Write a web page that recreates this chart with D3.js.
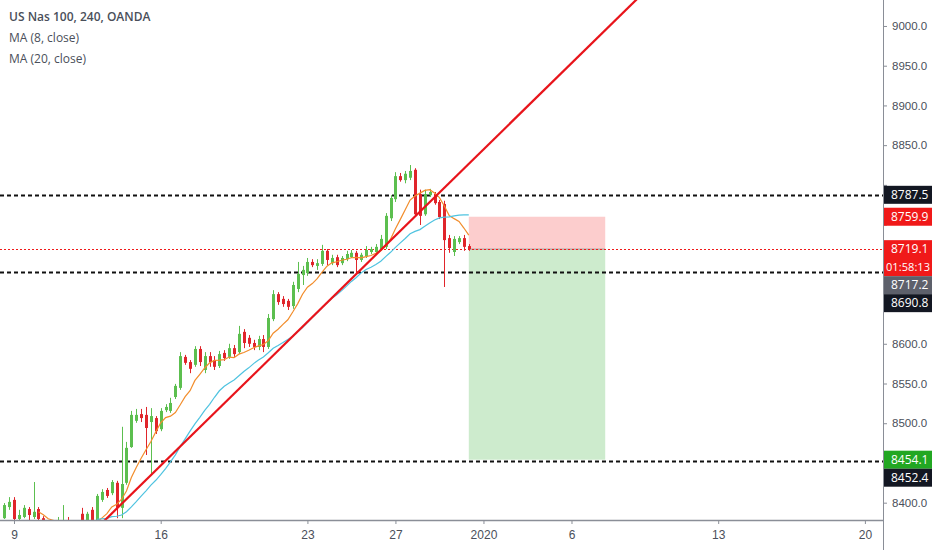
<!DOCTYPE html>
<html>
<head>
<meta charset="utf-8">
<script src="https://cdn.jsdelivr.net/npm/d3@7"></script>
<style>
  html, body { margin: 0; padding: 0; background: #fff; overflow: hidden; }
  svg { display: block; font-family: "Open Sans", sans-serif; }
  .axis path, .axis line { stroke: #8a8e97; }
  .axis text { fill: #4a4f5a; font-size: 11.5px; }
  .legend text { fill: #4a4f5a; font-size: 12px; }
</style>
</head>
<body>
<script>
// Data {{{1
// 4h candles, one per bar index (0 = first visible bar)
const opens = [8380.5, 8394.5, 8403.5, 8379.5, 8382, 8392, 8382, 8392, 8380.5, 8372,
  8355.5, 8359.5, 8363, 8375.5, 8365.5, 8358, 8386, 8372, 8391, 8377,
  8403.5, 8416, 8412, 8425, 8393.5, 8425, 8470, 8503, 8511.5, 8510.5,
  8501.5, 8506.5, 8492.5, 8516.5, 8515.5, 8533, 8544.5, 8583.5, 8577, 8573.5,
  8593.5, 8567, 8584.5, 8579.5, 8572, 8588.5, 8583.5, 8594.5, 8589.5, 8615,
  8607.5, 8601, 8596, 8606, 8596, 8631, 8662.5, 8656.5, 8654, 8647.5,
  8669, 8686.5, 8689, 8703, 8698, 8700.5, 8717, 8701.5, 8709, 8701.5,
  8706.5, 8709, 8714.5, 8705.5, 8710.5, 8715.5, 8715.5, 8719.3, 8722, 8758,
  8782, 8811, 8806, 8809, 8819, 8788.5, 8763, 8787, 8788.5, 8778.5,
  8776, 8733, 8715.5, 8728, 8733, 8723];
const highs = [8399.5, 8407, 8407, 8391, 8397, 8394.5, 8426, 8394.5, 8383, 8375.5,
  8373, 8382, 8397, 8382, 8370.5, 8373, 8393.5, 8388.5, 8394.5, 8411,
  8417, 8418.5, 8428.5, 8427.5, 8495.5, 8476.5, 8515.5, 8518, 8518, 8520.5,
  8519, 8509, 8519, 8524, 8532, 8549.5, 8589.5, 8586, 8579.5, 8597,
  8597, 8589.5, 8589.5, 8584.5, 8591, 8592, 8600, 8598.5, 8622.5, 8618.5,
  8611, 8605, 8610, 8611, 8637.5, 8667.5, 8665, 8660, 8656.5, 8678,
  8703, 8698, 8708, 8706.5, 8706.5, 8724.5, 8719.3, 8712, 8712, 8710.5,
  8717, 8718, 8717, 8714.5, 8723, 8722, 8725.5, 8737, 8764.5, 8787,
  8816, 8815, 8817.5, 8825, 8821, 8794, 8794, 8795, 8791, 8781,
  8780, 8737, 8735.5, 8735.5, 8737, 8725.5];
const lows = [8379.5, 8391, 8377, 8375.5, 8380.5, 8378, 8379.5, 8375.5, 8365.5, 8355.5,
  8350.5, 8353, 8358, 8360.5, 8353, 8353, 8365.5, 8369.5, 8373, 8373,
  8401, 8406, 8409.5, 8380.5, 8380.5, 8422.5, 8469, 8500.5, 8501.5, 8460,
  8435, 8486.5, 8490, 8514, 8513, 8530.5, 8542, 8573.5, 8563, 8571,
  8572, 8563, 8571, 8567, 8569.5, 8578.5, 8581, 8583.5, 8587, 8594.5,
  8596, 8592, 8592, 8589.5, 8593.5, 8628.5, 8649, 8646.5, 8642.5, 8644,
  8665, 8674, 8685.5, 8696.5, 8693, 8698, 8699, 8699, 8696.5, 8699,
  8704, 8708, 8689, 8703, 8708, 8713, 8713, 8717, 8719.3, 8754.5,
  8778.5, 8804, 8802, 8806, 8761, 8749.5, 8761, 8785, 8775, 8757,
  8671.5, 8714.5, 8710.5, 8725.5, 8717, 8717];
const closes = [8397, 8401, 8379.5, 8384.5, 8393.5, 8384.5, 8388.5, 8379.5, 8368, 8359.5,
  8365.5, 8369.5, 8375.5, 8365.5, 8358, 8368, 8372, 8386, 8375.5, 8408.5,
  8413.5, 8408.5, 8426, 8393.5, 8423.5, 8469, 8510.5, 8510.5, 8506.5, 8494,
  8509, 8490, 8515.5, 8520.5, 8525.5, 8547, 8584.5, 8576, 8568.5, 8593.5,
  8577, 8584.5, 8577, 8571, 8587, 8582, 8594.5, 8587, 8612.5, 8601,
  8600, 8596, 8606, 8596, 8632.5, 8662.5, 8652.5, 8650, 8646.5, 8674,
  8688, 8693, 8703, 8699, 8701.5, 8717, 8705.5, 8708, 8699, 8708,
  8713, 8714.5, 8705.5, 8712, 8718, 8719.3, 8722, 8732, 8761, 8783.5,
  8811, 8806, 8814, 8817.5, 8763, 8761, 8788.5, 8791, 8777, 8759.5,
  8730.5, 8720.5, 8732, 8733, 8722, 8719.1];

// time axis: bar index of each tick and its label
const tickIdx = [2, 32, 62, 80, 98, 116, 146, 176];
const tickLabels = ["9", "16", "23", "27", "2020", "6", "13", "20"];

const priceTicks = [8400, 8450, 8500, 8550, 8600, 8650, 8700, 8750, 8800, 8850, 8900, 8950, 9000];

const legendLines = ["US Nas 100, 240, OANDA", "MA (8, close)", "MA (20, close)"];
const maPeriods = [8, 20];

// drawings
const levelPrices = [8787.5, 8690.8, 8452.4];
const trendBars = [20.6, 97.9];
const trendPrices = [8378, 8844];
const positionBars = [95, 122.9];
const positionEntry = 8719.1;
const positionStop = 8759.9;
const positionTarget = 8454.1;

// right-hand price labels
const labelPrices = [8787.5, 8759.9, 8719.1, 8717.2, 8690.8, 8454.1, 8452.4];
const labelKinds = ["level", "stop", "last", "prev", "level", "target", "level"];
const countdown = "01:58:13";

// Main {{{1
const W = 932, H = 550;
const plotW = 883, plotH = 520;

function main() {
    const svg = d3.select("body").append("svg")
        .attr("width", W).attr("height", H)
        .attr("viewBox", [0, 0, W, H]);

    const x = d3.scaleLinear().domain([-0.86, 179.7]).range([0, plotW]);
    const y = d3.scaleLinear().domain([8378.2, 9032.7]).range([plotH, 0]);

    svg.append("clipPath").attr("id", "plot")
        .append("rect").attr("width", plotW).attr("height", plotH);

    const plot = svg.append("g").attr("clip-path", "url(#plot)");

    createPosition(plot, x, y);
    createLevels(plot, x, y);
    createCandles(plot, x, y);
    createMovingAverages(plot, x, y);
    createTrendLine(plot, x, y);
    const boxes = layoutPriceLabels(y);
    createAxes(svg, x, y, boxes);
    createPriceLabels(svg, boxes);
    createLegend(svg);
}

// Marks {{{1
function createCandles(g, x, y) {
    const bars = d3.range(closes.length);
    const up = (i) => closes[i] >= opens[i];
    const col = (i) => up(i) ? "#5cbf4f" : "#e0252b";
    const c = g.append("g").selectAll("g").data(bars).join("g");
    c.append("line")
        .attr("x1", (i) => Math.round(x(i)) + 0.5)
        .attr("x2", (i) => Math.round(x(i)) + 0.5)
        .attr("y1", (i) => y(highs[i]))
        .attr("y2", (i) => y(lows[i]))
        .attr("stroke", col);
    c.append("rect")
        .attr("x", (i) => Math.round(x(i)) - 1)
        .attr("width", 3)
        .attr("y", (i) => y(Math.max(opens[i], closes[i])))
        .attr("height", (i) => Math.max(1, Math.abs(y(opens[i]) - y(closes[i]))))
        .attr("fill", col);
}

function sma(values, n) {
    return values.map((v, i) => i < n - 1 ? null : d3.mean(values.slice(i - n + 1, i + 1)));
}

function createMovingAverages(g, x, y) {
    const colors = ["#f28d2c", "#4fc3e0"];
    maPeriods.forEach((n, k) => {
        const ma = sma(closes, n);
        const line = d3.line()
            .defined((d) => d != null)
            .x((d, i) => x(i))
            .y((d) => y(d));
        g.append("path")
            .attr("d", line(ma))
            .attr("fill", "none")
            .attr("stroke", colors[k])
            .attr("stroke-width", 1.2);
    });
}

function createTrendLine(g, x, y) {
    const slope = (trendPrices[1] - trendPrices[0]) / (trendBars[1] - trendBars[0]);
    const at = (b) => trendPrices[0] + slope * (b - trendBars[0]);
    const [b0, b1] = x.domain();
    g.append("line")
        .attr("x1", x(b0)).attr("y1", y(at(b0)))
        .attr("x2", x(b1)).attr("y2", y(at(b1)))
        .attr("stroke", "#e8141b")
        .attr("stroke-width", 2.2);
}

function createLevels(g, x, y) {
    g.selectAll(".level").data(levelPrices).join("line")
        .attr("x1", 0).attr("x2", plotW)
        .attr("y1", (d) => Math.round(y(d)) + 0.5)
        .attr("y2", (d) => Math.round(y(d)) + 0.5)
        .attr("stroke", "#111")
        .attr("stroke-width", 2)
        .attr("stroke-dasharray", "4,3");
    // last price
    g.append("line")
        .attr("x1", 0).attr("x2", plotW)
        .attr("y1", Math.round(y(positionEntry)) + 0.5)
        .attr("y2", Math.round(y(positionEntry)) + 0.5)
        .attr("stroke", "#f01919")
        .attr("stroke-width", 1.2)
        .attr("shape-rendering", "crispEdges")
        .attr("stroke-dasharray", "2,2");
}

function createPosition(g, x, y) {
    const x0 = x(positionBars[0]), x1 = x(positionBars[1]);
    g.append("rect")
        .attr("x", x0).attr("width", x1 - x0)
        .attr("y", y(positionStop))
        .attr("height", y(positionEntry) - y(positionStop))
        .attr("fill", "#fccdcd");
    g.append("rect")
        .attr("x", x0).attr("width", x1 - x0)
        .attr("y", y(positionEntry))
        .attr("height", y(positionTarget) - y(positionEntry))
        .attr("fill", "#cdebcd");
    g.append("line")
        .attr("x1", x0).attr("x2", x1)
        .attr("y1", y(positionEntry)).attr("y2", y(positionEntry))
        .attr("stroke", "#9a9a9a")
        .attr("stroke-width", 1);
}

// Axes and labels {{{1
const boxH = 18;

// stack labels top-down so they never overlap
function layoutPriceLabels(y) {
    let bottom = -Infinity;
    return labelPrices.map((p, i) => {
        const kind = labelKinds[i];
        const h = kind === "last" ? boxH * 2 : boxH;
        const top = Math.max(y(p) - boxH / 2, bottom);
        bottom = top + h;
        return { price: p, kind: kind, top: top, h: h };
    });
}

function createAxes(svg, x, y, boxes) {
    svg.append("g")
        .attr("class", "axis")
        .attr("transform", `translate(0,${plotH})`)
        .call(d3.axisBottom(x)
            .tickValues(tickIdx)
            .tickFormat((d, i) => tickLabels[i])
            .tickSize(4)
            .tickSizeOuter(0)
            .tickPadding(6))
        .call((a) => a.select(".domain").attr("d", `M0,0.5H${plotW}`).attr("stroke-width", 1.5))
        .selectAll("text").style("font-size", "12px");

    // tick labels hidden behind a price label box are left out
    const covered = (v) => boxes.some((b) => y(v) + 6 > b.top && y(v) - 6 < b.top + b.h);
    svg.append("g")
        .attr("class", "axis")
        .attr("transform", `translate(${plotW},0)`)
        .call(d3.axisRight(y)
            .tickValues(priceTicks)
            .tickFormat((d) => covered(d) ? "" : d3.format(".1f")(d))
            .tickSize(4)
            .tickSizeOuter(0)
            .tickPadding(5))
        .call((a) => a.select(".domain").attr("d", `M0.5,0V${H}`));
}

function createPriceLabels(svg, boxes) {
    const fills = { level: "#131722", stop: "#f01919", last: "#f01919", prev: "#5d606b", target: "#22a722" };
    boxes.forEach((b) => {
        const g = svg.append("g").attr("transform", `translate(${plotW + 1},${b.top})`);
        g.append("rect")
            .attr("width", W - plotW).attr("height", b.h)
            .attr("fill", fills[b.kind]);
        g.append("text")
            .attr("x", 7).attr("y", boxH / 2 + 4)
            .attr("fill", "#fff")
            .style("font-size", "12px")
            .text(d3.format(".1f")(b.price));
        if (b.kind === "last") {
            g.append("text")
                .attr("x", 2).attr("y", boxH * 1.5 + 4)
                .attr("fill", "#fff")
                .style("font-size", "11px")
                .attr("textLength", 44)
                .text(countdown);
        }
    });
}

function createLegend(svg) {
    svg.append("g").attr("class", "legend")
        .selectAll("text").data(legendLines).join("text")
        .attr("x", 9)
        .attr("y", (d, i) => 21 + i * 21)
        .attr("font-weight", (d, i) => i === 0 ? 600 : 400)
        .text((d) => d);
}

main();
// vim: set expandtab softtabstop=4 tabstop=4 :
</script>
</body>
</html>
